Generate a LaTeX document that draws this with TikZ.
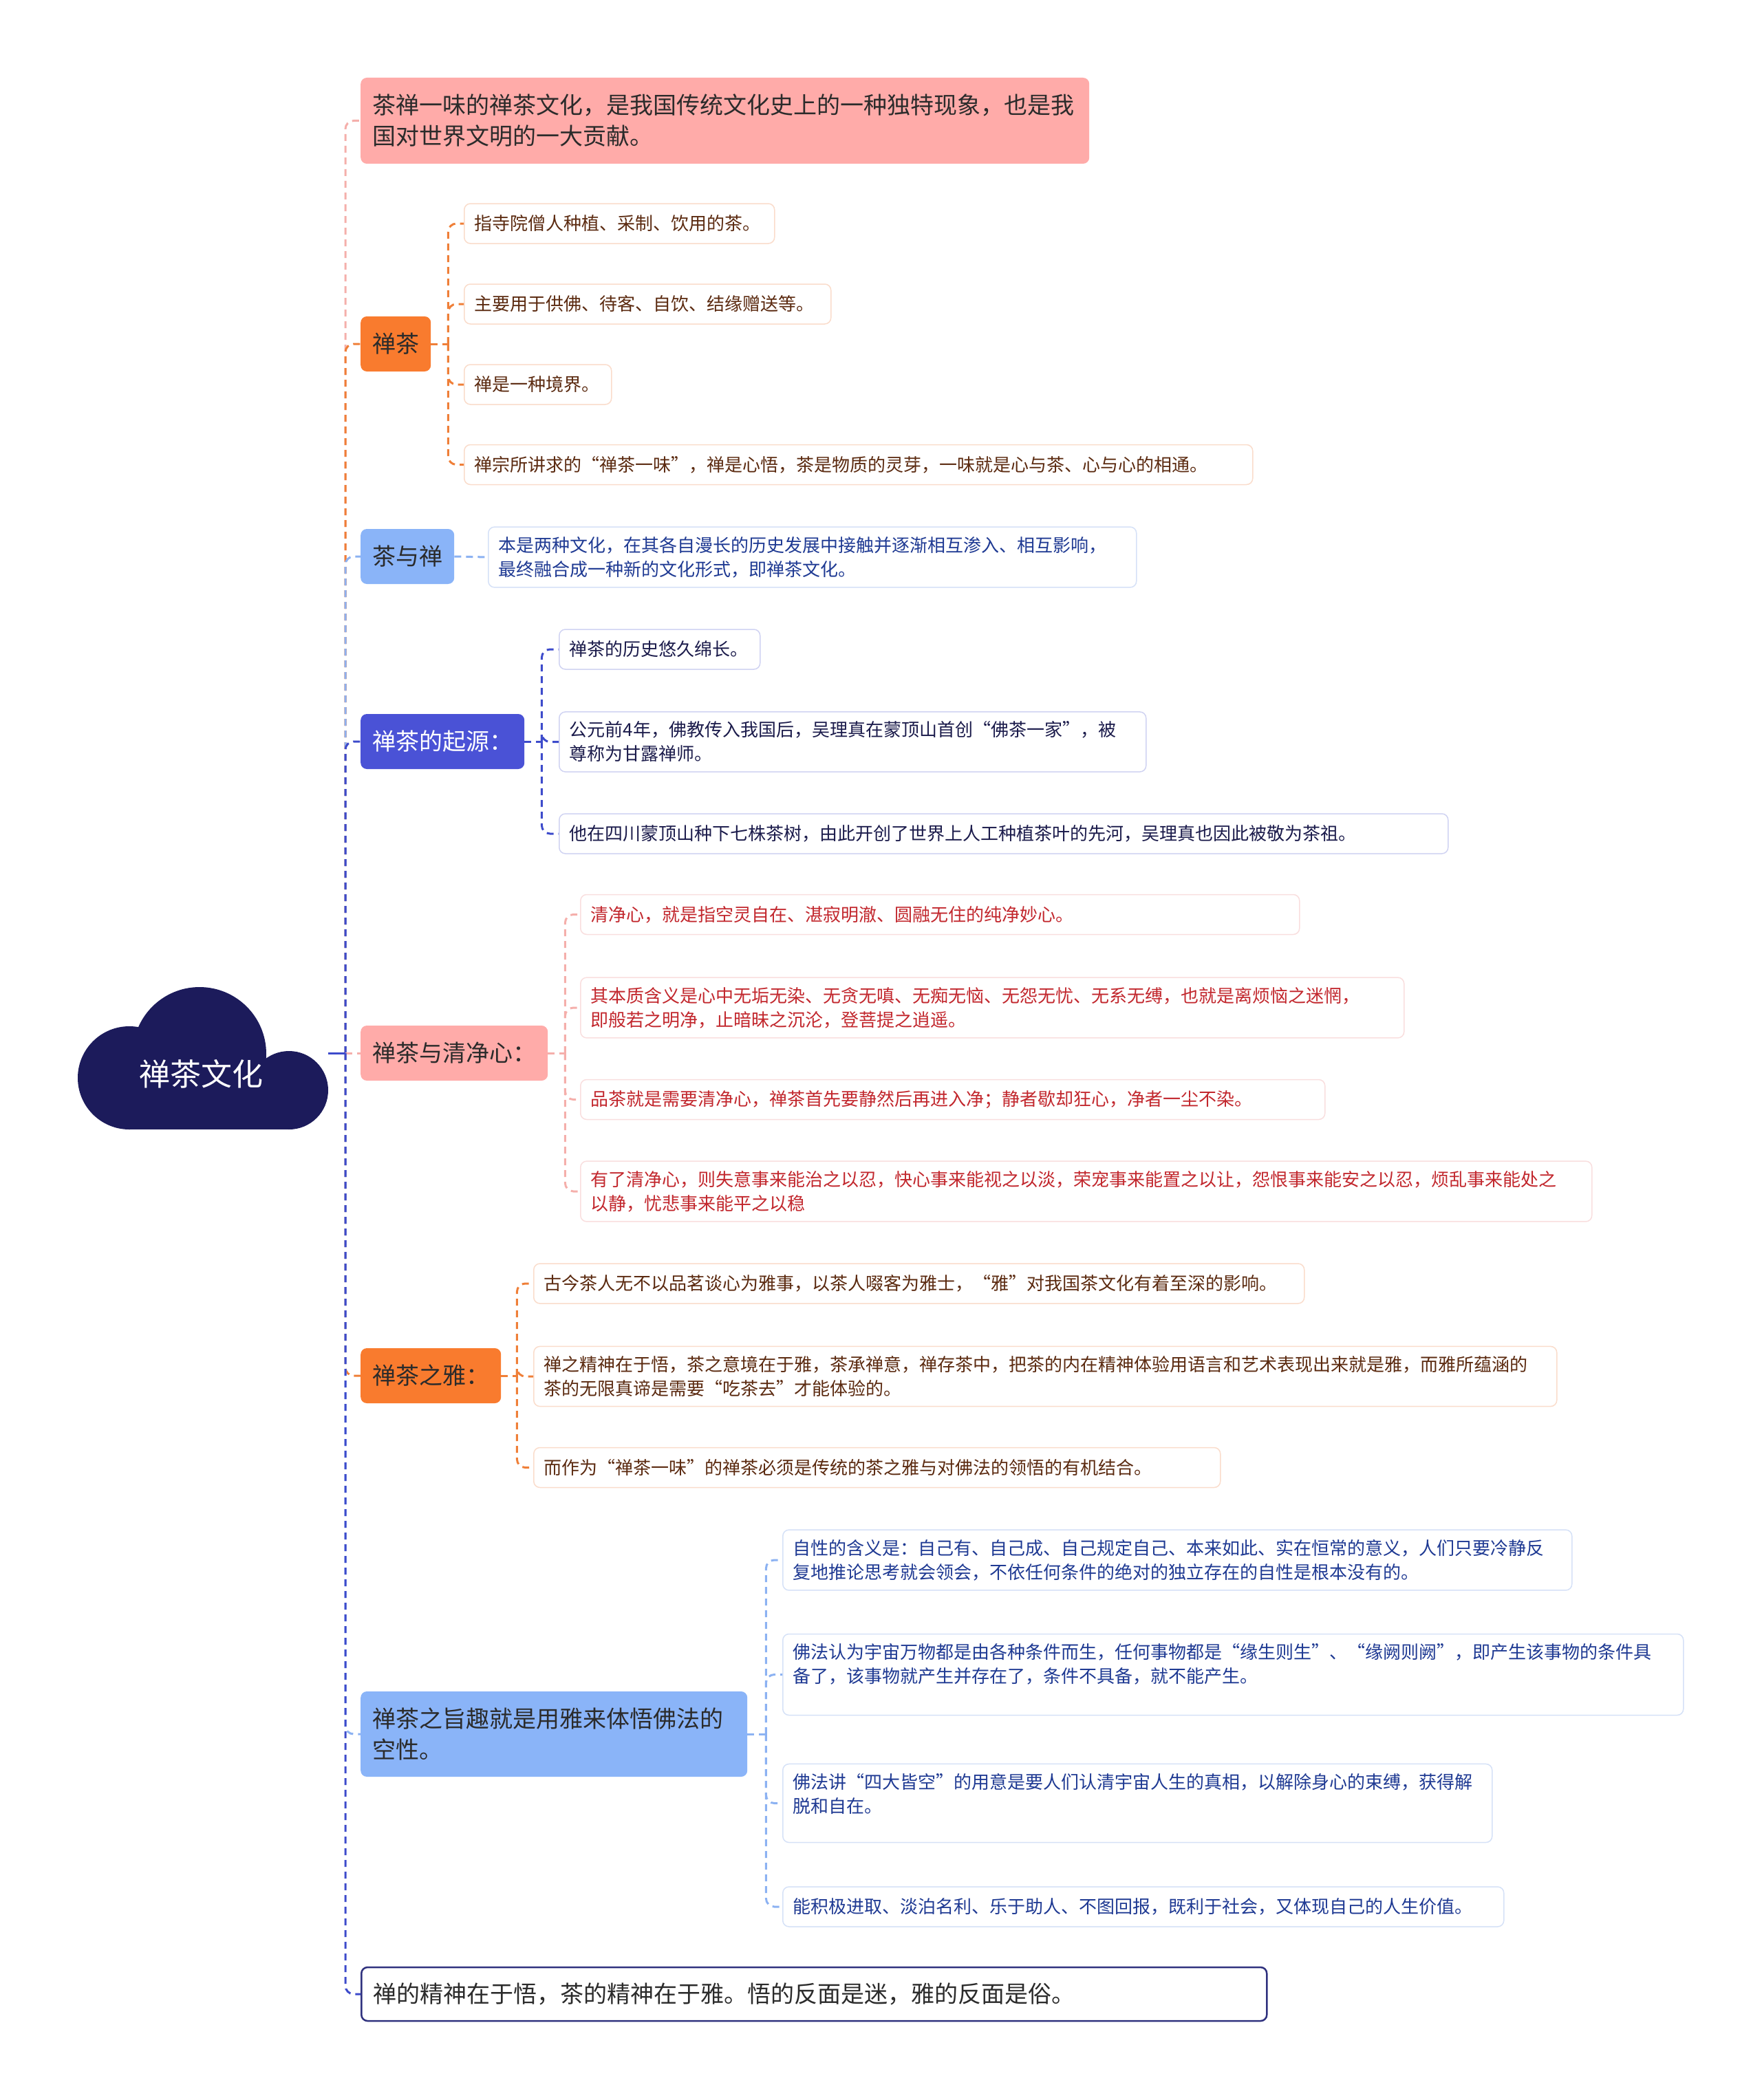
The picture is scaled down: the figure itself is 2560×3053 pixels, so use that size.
\documentclass[tikz,border=0pt]{standalone}
\usepackage{fontspec}
\setmainfont{Noto Sans CJK SC}
\usepackage{tikz}
\usetikzlibrary{positioning,calc}
\definecolor{rootnavy}{HTML}{1C1B5B}
\definecolor{pinkF}{HTML}{FFABA9}
\definecolor{orangeF}{HTML}{F97B2E}
\definecolor{blueF}{HTML}{8AB4F8}
\definecolor{indigoF}{HTML}{4A52D6}
\definecolor{inkdark}{HTML}{2B2B2B}
\definecolor{pinkL}{HTML}{F5AFAB}
\definecolor{orangeL}{HTML}{EF7F38}
\definecolor{blueL}{HTML}{8CB2F2}
\definecolor{indigoL}{HTML}{3D4BCB}
\definecolor{navyL}{HTML}{2F317E}
\definecolor{orangeT}{HTML}{FADCCB}
\definecolor{blueT}{HTML}{D5E1F7}
\definecolor{indigoT}{HTML}{D0D3F2}
\definecolor{pinkT}{HTML}{F9DEDE}
\definecolor{brownInk}{HTML}{5B2A10}
\definecolor{redInk}{HTML}{C2272D}
\definecolor{blueInk}{HTML}{1F3A93}
\definecolor{navyInk}{HTML}{1B1B4B}

\begin{document}
\begin{tikzpicture}[x=1pt, y=-1pt,
    topic/.style={rounded corners=9pt, minimum height=80pt, inner xsep=17pt, inner ysep=0pt, anchor=west, align=left, font=\fontsize{34}{45}\selectfont, text=inkdark},
    leaf/.style={draw, fill=white, line width=1.5pt, rounded corners=9pt, minimum height=58pt, inner xsep=15pt, inner ysep=14pt, anchor=west, align=left, font=\fontsize{26}{35}\selectfont},
    leafO/.style={leaf, draw=orangeT, text=brownInk},
    leafB/.style={leaf, draw=blueT, text=blueInk},
    leafI/.style={leaf, draw=indigoT, text=navyInk},
    leafP/.style={leaf, draw=pinkT, text=redInk},
    trunk/.style={dash pattern=on 10pt off 7pt, line width=3pt, rounded corners=12pt},
    link/.style={dash pattern=on 10pt off 7pt, line width=3pt, rounded corners=12pt}
]
\useasboundingbox (0,0) rectangle (2560,3053);

\fill[rootnavy] (188,1567) circle[radius=75pt];
\fill[rootnavy] (290,1532) circle[radius=97pt];
\fill[rootnavy] (420,1585) circle[radius=57pt];
\fill[rootnavy] (188,1548) rectangle (420,1642);
\node[text=white, font=\fontsize{45}{50}\selectfont] (root) at (292,1561) {禅茶文化};
\coordinate (rootR) at (477,1531);
\coordinate (hub) at (502,1531);

\node[topic, fill=pinkF, text width=1025pt, minimum height=125pt] (intro) at (524,175.5) {茶禅一味的禅茶文化，是我国传统文化史上的一种独特现象，也是我\\国对世界文明的一大贡献。};
\node[topic, fill=orangeF] (chan) at (524,500) {禅茶};
\node[topic, fill=blueF] (cyc) at (524,809) {茶与禅};
\node[topic, fill=indigoF, text=white] (origin) at (524,1078) {禅茶的起源：};
\node[topic, fill=pinkF] (pure) at (524,1531) {禅茶与清净心：};
\node[topic, fill=orangeF] (ya) at (524,2000) {禅茶之雅：};
\node[topic, fill=blueF, text width=528pt, minimum height=124pt] (zhi) at (524,2521) {禅茶之旨趣就是用雅来体悟佛法的\\空性。};
\node[topic, draw=navyL, fill=white, line width=2.5pt, text width=1282pt, minimum height=78pt] (sumup) at (524,2899) {禅的精神在于悟，茶的精神在于雅。悟的反面是迷，雅的反面是俗。};

\node[leafO, text width=421pt] (chanA) at (674,325) {指寺院僧人种植、采制、饮用的茶。};
\node[leafO, text width=503pt] (chanB) at (674,442) {主要用于供佛、待客、自饮、结缘赠送等。};
\node[leafO, text width=184pt] (chanC) at (674,559) {禅是一种境界。};
\node[leafO, text width=1116pt] (chanD) at (674,675.5) {禅宗所讲求的“禅茶一味”，禅是心悟，茶是物质的灵芽，一味就是心与茶、心与心的相通。};

\node[leafB, text width=912pt] (cycA) at (709,810) {本是两种文化，在其各自漫长的历史发展中接触并逐渐相互渗入、相互影响，\\最终融合成一种新的文化形式，即禅茶文化。};

\node[leafI, text width=262pt] (originA) at (812,944) {禅茶的历史悠久绵长。};
\node[leafI, text width=823pt] (originB) at (812,1078.5) {公元前4年，佛教传入我国后，吴理真在蒙顶山首创“佛茶一家”，被\\尊称为甘露禅师。};
\node[leafI, text width=1262pt] (originC) at (812,1212) {他在四川蒙顶山种下七株茶树，由此开创了世界上人工种植茶叶的先河，吴理真也因此被敬为茶祖。};

\node[leafP, text width=1015pt] (pureA) at (843,1329.5) {清净心，就是指空灵自在、湛寂明澈、圆融无住的纯净妙心。};
\node[leafP, text width=1167pt] (pureB) at (843,1465) {其本质含义是心中无垢无染、无贪无嗔、无痴无恼、无怨无忧、无系无缚，也就是离烦恼之迷惘，\\即般若之明净，止暗昧之沉沦，登菩提之逍遥。};
\node[leafP, text width=1052pt] (pureC) at (843,1598.5) {品茶就是需要清净心，禅茶首先要静然后再进入净；静者歇却狂心，净者一尘不染。};
\node[leafP, text width=1440pt] (pureD) at (843,1732) {有了清净心，则失意事来能治之以忍，快心事来能视之以淡，荣宠事来能置之以让，怨恨事来能安之以忍，烦乱事来能处之\\以静，忧悲事来能平之以稳};

\node[leafO, text width=1090pt] (yaA) at (775,1866) {古今茶人无不以品茗谈心为雅事，以茶人啜客为雅士，“雅”对我国茶文化有着至深的影响。};
\node[leafO, text width=1457pt] (yaB) at (775,2001) {禅之精神在于悟，茶之意境在于雅，茶承禅意，禅存茶中，把茶的内在精神体验用语言和艺术表现出来就是雅，而雅所蕴涵的\\茶的无限真谛是需要“吃茶去”才能体验的。};
\node[leafO, text width=968pt] (yaC) at (775,2133.5) {而作为“禅茶一味”的禅茶必须是传统的茶之雅与对佛法的领悟的有机结合。};

\node[leafB, text width=1117pt] (zhiA) at (1137,2268) {自性的含义是：自己有、自己成、自己规定自己、本来如此、实在恒常的意义，人们只要冷静反\\复地推论思考就会领会，不依任何条件的绝对的独立存在的自性是根本没有的。};
\node[leafB, text width=1279pt] (zhiB) at (1137,2434.5) {佛法认为宇宙万物都是由各种条件而生，任何事物都是“缘生则生”、“缘阙则阙”，即产生该事物的条件具\\备了，该事物就产生并存在了，条件不具备，就不能产生。\rule[-33pt]{0pt}{0pt}};
\node[leafB, text width=1001pt] (zhiC) at (1137,2621.5) {佛法讲“四大皆空”的用意是要人们认清宇宙人生的真相，以解除身心的束缚，获得解\\脱和自在。\rule[-29pt]{0pt}{0pt}};
\node[leafB, text width=1018pt] (zhiD) at (1137,2772) {能积极进取、淡泊名利、乐于助人、不图回报，既利于社会，又体现自己的人生价值。};

\draw[trunk, pinkL] (hub) |- (intro.west);
\draw[trunk, orangeL] (hub) |- (chan.west);
\draw[trunk, blueL] (hub) |- (cyc.west);
\draw[trunk, indigoL] (hub) |- (origin.west);
\draw[trunk, pinkL] (hub) -- (pure.west);
\draw[trunk, orangeL] (hub) |- (ya.west);
\draw[trunk, blueL] (hub) |- (zhi.west);
\draw[trunk, indigoL] (hub) |- (sumup.west);
\draw[line width=3pt, indigoL] (rootR) -- (hub);

\draw[link, orangeL] (chan.east) -- ++(25,0) coordinate (chanS);
\draw[link, orangeL] (chanS) |- (chanA.west);
\draw[link, orangeL] (chanS) |- (chanB.west);
\draw[link, orangeL] (chanS) |- (chanC.west);
\draw[link, orangeL] (chanS) |- (chanD.west);

\draw[link, blueL] (cyc.east) -- (cycA.west);

\draw[link, indigoL] (origin.east) -- ++(25,0) coordinate (originS);
\draw[link, indigoL] (originS) |- (originA.west);
\draw[link, indigoL] (originS) |- (originB.west);
\draw[link, indigoL] (originS) |- (originC.west);

\draw[link, pinkL] (pure.east) -- ++(25,0) coordinate (pureS);
\draw[link, pinkL] (pureS) |- (pureA.west);
\draw[link, pinkL] (pureS) |- (pureB.west);
\draw[link, pinkL] (pureS) |- (pureC.west);
\draw[link, pinkL] (pureS) |- (pureD.west);

\draw[link, orangeL] (ya.east) -- ++(23,0) coordinate (yaS);
\draw[link, orangeL] (yaS) |- (yaA.west);
\draw[link, orangeL] (yaS) |- (yaB.west);
\draw[link, orangeL] (yaS) |- (yaC.west);

\draw[link, blueL] (zhi.east) -- ++(27,0) coordinate (zhiS);
\draw[link, blueL] (zhiS) |- (zhiA.west);
\draw[link, blueL] (zhiS) |- (zhiB.west);
\draw[link, blueL] (zhiS) |- (zhiC.west);
\draw[link, blueL] (zhiS) |- (zhiD.west);

\end{tikzpicture}
\end{document}
